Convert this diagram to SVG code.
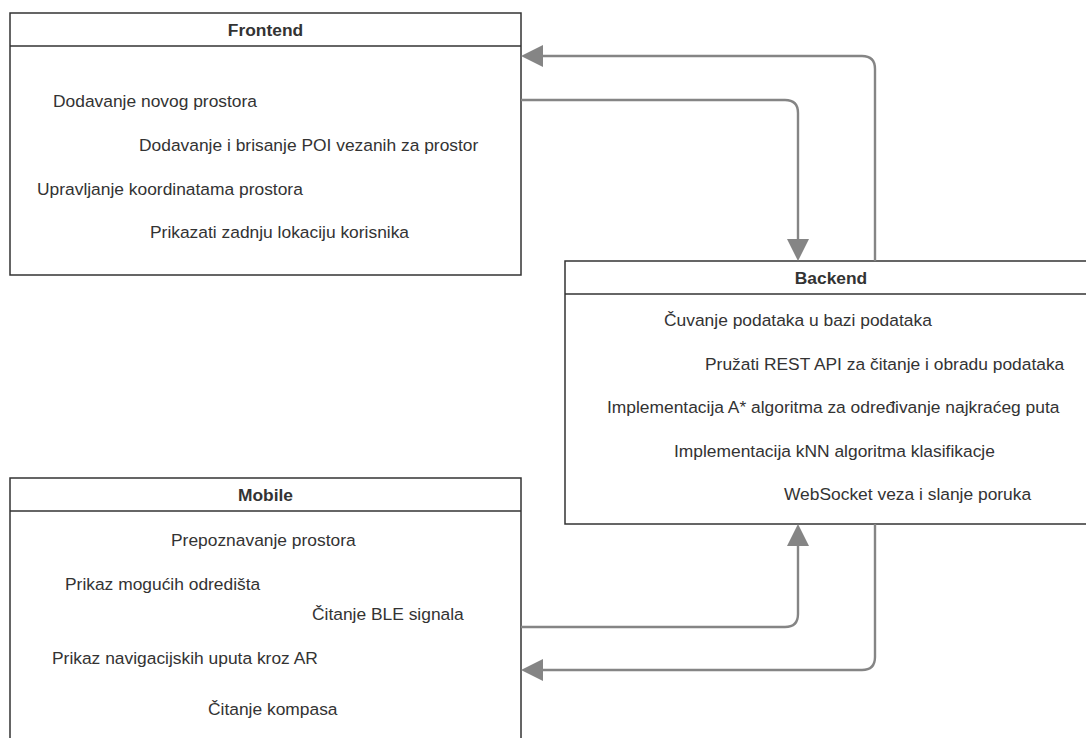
<svg xmlns="http://www.w3.org/2000/svg" width="1086" height="738" viewBox="0 0 1086 738">
<defs>
<style>
.box{fill:#ffffff;stroke:#333333;stroke-width:1.5}
.hdr{fill:none;stroke:#333333;stroke-width:1.5}
.title{font-family:"Liberation Sans",Arial,sans-serif;font-size:17.4px;font-weight:bold;fill:#333333;text-anchor:middle}
.item{font-family:"Liberation Sans",Arial,sans-serif;font-size:17.4px;fill:#333333}
.conn{fill:none;stroke:#858585;stroke-width:2.4;marker-end:url(#arrow)}
</style>
<marker id="arrow" markerUnits="userSpaceOnUse" markerWidth="24" markerHeight="24" refX="0" refY="11" orient="auto" viewBox="0 0 24 24">
<path d="M0,0 L22,11 L0,22 Z" fill="#858585"/>
</marker>
</defs>
<rect width="1086" height="738" fill="#ffffff"/>

<g id="frontend">
<rect class="box" x="10" y="13" width="511" height="262"/>
<line class="hdr" x1="10" y1="46" x2="521" y2="46"/>
<text class="title" x="265.5" y="36">Frontend</text>
<text class="item" x="53" y="107">Dodavanje novog prostora</text>
<text class="item" x="139" y="151">Dodavanje i brisanje POI vezanih za prostor</text>
<text class="item" x="37" y="195">Upravljanje koordinatama prostora</text>
<text class="item" x="150" y="238">Prikazati zadnju lokaciju korisnika</text>
</g>

<g id="backend">
<rect class="box" x="565" y="261" width="533" height="263"/>
<line class="hdr" x1="565" y1="294" x2="1098" y2="294"/>
<text class="title" x="831" y="284">Backend</text>
<text class="item" x="664" y="326">Čuvanje podataka u bazi podataka</text>
<text class="item" x="705" y="370">Pružati REST API za čitanje i obradu podataka</text>
<text class="item" x="607" y="413">Implementacija A* algoritma za određivanje najkraćeg puta</text>
<text class="item" x="674" y="457">Implementacija kNN algoritma klasifikacje</text>
<text class="item" x="784" y="500">WebSocket veza i slanje poruka</text>
</g>

<g id="mobile">
<rect class="box" x="10" y="478" width="511" height="300"/>
<line class="hdr" x1="10" y1="511" x2="521" y2="511"/>
<text class="title" x="265.5" y="501">Mobile</text>
<text class="item" x="171" y="546">Prepoznavanje prostora</text>
<text class="item" x="65" y="590">Prikaz mogućih odredišta</text>
<text class="item" x="312" y="620">Čitanje BLE signala</text>
<text class="item" x="52" y="664">Prikaz navigacijskih uputa kroz AR</text>
<text class="item" x="208" y="715">Čitanje kompasa</text>
</g>

<g id="connectors">
<path class="conn" d="M875,261 L875,69 Q875,56 862,56 L543,56"/>
<path class="conn" d="M521,100 L785,100 Q798,100 798,113 L798,239"/>
<path class="conn" d="M521,627 L785,627 Q798,627 798,614 L798,546"/>
<path class="conn" d="M875,524 L875,657 Q875,670 862,670 L543,670"/>
</g>
</svg>
